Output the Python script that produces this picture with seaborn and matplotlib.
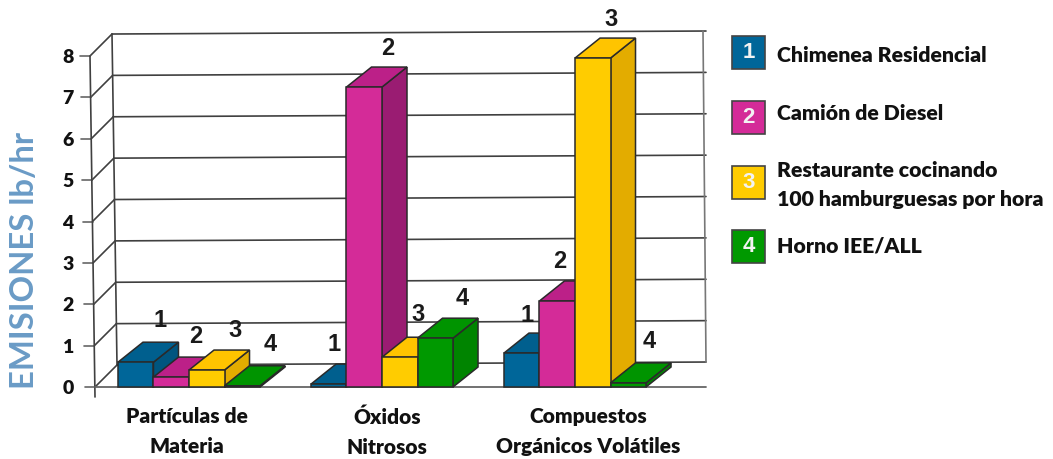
import matplotlib
matplotlib.use("Agg")
import matplotlib.pyplot as plt
from matplotlib.patches import Polygon, Rectangle
from matplotlib.transforms import ScaledTranslation
import pandas as pd
import seaborn as sns

# ---- data ----
categories = ["Partículas de\nMateria", "Óxidos\nNitrosos", "Compuestos\nOrgánicos Volátiles"]
sources = ["1", "2", "3", "4"]
chimenea = [0.60, 0.07, 0.82]
camion = [0.24, 7.25, 2.08]
restaurante = [0.41, 0.72, 7.95]
horno = [0.03, 1.18, 0.10]
y_ticks = [0, 1, 2, 3, 4, 5, 6, 7, 8]
legend_labels = ["Chimenea Residencial", "Camión de Diesel",
                 "Restaurante cocinando\n100 hamburguesas por hora", "Horno IEE/ALL"]
y_title = "EMISIONES lb/hr"

# ---- style ----
front_c = ["#006699", "#D42B98", "#FFCC00", "#009900"]
top_c = ["#005F8E", "#BC2088", "#FFC400", "#009400"]
side_c = ["#00557F", "#9A1C72", "#E3AC00", "#008400"]
edge = "#2A2A2A"
wall = "#404040"
W, H = 1053, 459
PX_CAT = 193.0      # pixels per category
PX_UNIT = 41.4      # pixels per y unit
sns.set_style("white")
plt.rcParams["font.family"] = ["Lato", "DejaVu Sans"]
NUM_FONT = ["Liberation Sans", "DejaVu Sans"]

fig = plt.figure(figsize=(W / 100, H / 100), dpi=100)
ax = fig.add_axes([95 / W, 1 - 397 / H, (706 - 95) / W, (397 - 56) / H])

df = pd.DataFrame({
    "cat": categories * 4,
    "src": [s for s in sources for _ in categories],
    "val": chimenea + camion + restaurante + horno,
})
sns.barplot(data=df, x="cat", y="val", hue="src", order=categories, hue_order=sources,
            palette=front_c, width=0.736, gap=0, saturation=1, legend=False,
            edgecolor=edge, linewidth=1.1, ax=ax)

xl, xr = (95 - 189) / PX_CAT, (706 - 189) / PX_CAT
ax.set_xlim(xl, xr)
ax.set_ylim(-10 / PX_UNIT, 8)
ax.patch.set_alpha(0)
sns.despine(ax=ax, left=True, bottom=True, top=True, right=True)
ax.set_xlabel("")
ax.set_ylabel("")

# ---- back wall and floor ----
wall_dx, wall_dy = 22 / PX_CAT, 22 / PX_UNIT
rise = 3 / PX_UNIT          # the back lines climb slightly to the right
lean = 5 / PX_CAT           # the upright lines lean slightly to the left at the top
top = y_ticks[-1]
line_kw = dict(color=wall, lw=1.2, clip_on=False, solid_capstyle="round", zorder=1)
def lean_at(v):
    return lean * v / top
for v in y_ticks:
    x0 = xl - lean_at(v)
    ax.plot([x0 + wall_dx, xr], [v + wall_dy, v + wall_dy + rise], **line_kw)
    ax.plot([x0, x0 + wall_dx], [v, v + wall_dy], **line_kw)
    ax.plot([x0 - 10 / PX_CAT, x0], [v, v], color="#666666", lw=1.2, clip_on=False, zorder=1)
ax.plot([xl + wall_dx, xl + wall_dx - lean_at(top)], [wall_dy, top + wall_dy], **line_kw)
ax.plot([xr, xr - 3 / PX_CAT], [wall_dy + rise, top + wall_dy + rise], color="#777777", lw=1.2,
        clip_on=False, zorder=1)
ax.plot([xl, xl - lean_at(top)], [-10 / PX_UNIT, top], **line_kw)
ax.plot([xl, xr], [0, 0], color="#666666", lw=1.3, clip_on=False, zorder=1.5)

# ---- 3-D sides of the bars, painted left to right ----
bar_dx, bar_dy = 25 / PX_CAT, 20 / PX_UNIT
bars = [(p, sources.index(s)) for s, cont in zip(sources, ax.containers) for p in cont]
bars.sort(key=lambda t: t[0].get_x())
label_dx = {0: [24, 25, 28, 28], 1: [5, 24, 18, 27], 2: [5, 3, 18, 21]}
label_dy = {0: [42, 41, 40, 41], 1: [40, 39, 43, 40], 2: [38, 39, 39, 41]}
for i, (p, h) in enumerate(bars):
    x0, w, v = p.get_x(), p.get_width(), p.get_height()
    z = 2 + i * 0.1
    p.set_zorder(z + 0.05)
    p.set_clip_on(False)
    side = [(x0 + w, 0), (x0 + w + bar_dx, bar_dy), (x0 + w + bar_dx, v + bar_dy), (x0 + w, v)]
    cap = [(x0, v), (x0 + bar_dx, v + bar_dy), (x0 + w + bar_dx, v + bar_dy), (x0 + w, v)]
    ax.add_patch(Polygon(side, fc=side_c[h], ec=edge, lw=1.1, zorder=z, clip_on=False))
    ax.add_patch(Polygon(cap, fc=top_c[h], ec=edge, lw=1.1, zorder=z, clip_on=False))
    g = int(round(x0 + w / 2))
    ax.annotate(sources[h], (x0 + w / 2, v), xytext=(label_dx[g][h], label_dy[g][h]),
                textcoords="offset pixels", ha="center", va="center", family=NUM_FONT,
                fontweight="bold", fontsize=17, color="#1A1A1A", zorder=10, annotation_clip=False)

# ---- tick labels ----
ax.set_yticks(y_ticks)
ax.tick_params(axis="y", length=0, pad=15.5, labelsize=14, labelcolor="#111111")
for t in ax.get_yticklabels():
    t.set_fontweight("heavy")
ax.set_xticks(range(len(categories)))
ax.set_xticklabels(categories, linespacing=1.68, fontsize=15, fontweight="heavy", color="#111111")
ax.tick_params(axis="x", length=0, pad=7.5)
for t, shift in zip(ax.get_xticklabels(), [-2, 5, 13]):
    t.set_transform(t.get_transform() + ScaledTranslation(shift / 100, 0, fig.dpi_scale_trans))

fig.text(25 / W, 1 - 260 / H, y_title, rotation=90, ha="center", va="center",
         fontsize=23.7, fontweight="bold", color="#6A9BC6")

# ---- legend ----
swatch_tops = [36, 101, 166, 230]
text_ys = [55, 113, 185, 246]
for i, (lab, yt, ty) in enumerate(zip(legend_labels, swatch_tops, text_ys)):
    fig.add_artist(Rectangle((732 / W, 1 - (yt + 33) / H), 33 / W, 33 / H, transform=fig.transFigure,
                             fc=front_c[i], ec="#444444", lw=1.2))
    fig.text(748.5 / W, 1 - (yt + 16.5) / H, sources[i], ha="center", va="center", family=NUM_FONT,
             fontweight="bold", fontsize=16, color="#F2F2F2")
    fig.text(777 / W, 1 - ty / H, lab, ha="left", va="center", fontsize=15.3, fontweight="heavy",
             color="#111111", linespacing=1.68)

fig.savefig("out.png", dpi=100, facecolor="white")
